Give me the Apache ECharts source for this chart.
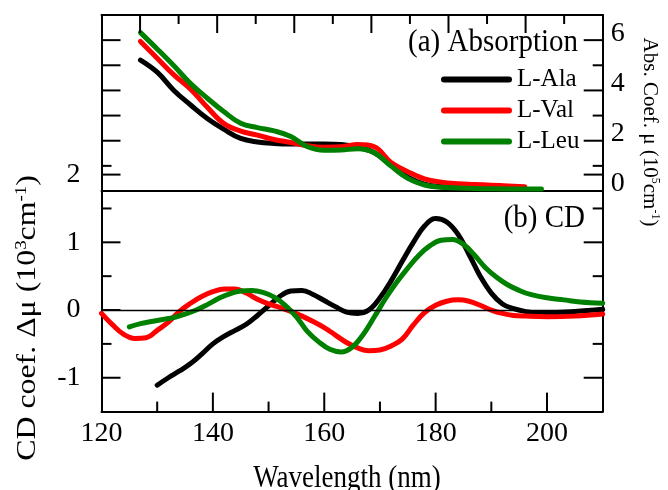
<!DOCTYPE html>
<html><head><meta charset="utf-8">
<script src="https://cdn.jsdelivr.net/npm/echarts@6/dist/echarts.min.js"></script>
<style>html,body{margin:0;padding:0;background:#fff}#c{width:668px;height:490px}</style>
</head><body><div id="c"></div>
<script>
// ---------- data ----------
const seriesNames = ['L-Ala', 'L-Val', 'L-Leu'];
const seriesColors = ['#000000', '#ff0000', '#008000'];

// (a) absorption, 10^5 cm^-1
const nmAbs  = [127,130,133,136,139,142,145,148,151,154,157,160,163,166,169,172,175,178,181,184,187,190,193,196,199];
const absAla = [5.21,4.73,4.00,3.42,2.88,2.45,2.09,1.95,1.89,1.87,1.87,1.87,1.85,1.74,1.52,1.02,0.55,0.27,0.17,0.12,0.10,0.08,0.08,0.07,null];
const absVal = [5.95,5.28,4.62,4.05,3.33,2.68,2.38,2.22,2.05,1.93,1.80,1.74,1.76,1.85,1.76,1.13,0.77,0.48,0.35,0.29,0.26,0.23,0.20,0.17,null];
const absLeu = [6.30,5.65,4.98,4.27,3.69,3.15,2.69,2.52,2.39,2.17,1.76,1.62,1.63,1.68,1.52,0.99,0.50,0.24,0.15,0.12,0.10,0.09,0.08,0.08,0.08];

// (b) CD, 10^3 cm^-1
const cdNmAla = [130,132,134,136,138,140,142,144,146,148,150,152,154,156,158,160,162,164,166,168,170,172,174,176,178,180,182,184,186,188,190,192,194,196,198,200,205,210];
const cdAla   = [-1.11,-1.00,-0.90,-0.79,-0.65,-0.50,-0.39,-0.30,-0.21,-0.08,0.06,0.20,0.28,0.29,0.23,0.14,0.05,-0.03,-0.05,0.00,0.18,0.43,0.72,1.00,1.24,1.35,1.30,1.12,0.82,0.50,0.25,0.09,0.02,-0.02,-0.04,-0.04,-0.02,0.01];
const cdNmVal = [120,122,124,126,128,130,132,134,136,138,140,142,144,146,148,150,152,154,156,158,160,162,164,166,168,170,172,174,176,178,180,182,184,186,188,190,192,194,196,200,205,210];
const cdVal   = [-0.05,-0.22,-0.36,-0.42,-0.41,-0.30,-0.18,-0.02,0.10,0.20,0.27,0.31,0.31,0.25,0.16,0.09,0.04,-0.02,-0.09,-0.17,-0.26,-0.37,-0.48,-0.56,-0.60,-0.59,-0.53,-0.43,-0.22,-0.04,0.07,0.13,0.15,0.13,0.07,0.00,-0.05,-0.08,-0.09,-0.10,-0.09,-0.06];
const cdNmLeu = [125,127,129,131,133,135,137,139,141,143,145,147,149,151,153,155,157,159,161,163,165,167,169,171,173,175,177,179,181,183,185,187,189,191,193,195,197,200,203,206,210];
const cdLeu   = [-0.25,-0.20,-0.17,-0.14,-0.11,-0.06,0.00,0.08,0.17,0.24,0.28,0.29,0.26,0.19,0.07,-0.10,-0.32,-0.47,-0.58,-0.62,-0.55,-0.36,-0.10,0.17,0.41,0.62,0.81,0.95,1.03,1.04,0.97,0.81,0.62,0.48,0.37,0.29,0.23,0.18,0.15,0.12,0.10];

// axis ranges and tick values
const xRange = [120, 210];
const xMajorTicks = [140, 160, 180, 200];
const xMinorTicks = [130, 150, 170, 190];
const topRange = [0, 13];                 // unlabeled top scale of panel (a)
const topLongTicks = [1, 3, 5, 7, 9, 11];
const topShortTicks = [2, 4, 6, 8, 10, 12];
const absRange = [0, 7];
const absLabels = [0, 2, 4, 6];
const absRightLong = [2, 4, 6];
const absRightShort = [1, 3, 5];
const absLeftLong = [2, 3, 4, 5, 6];
const absLeftShort = [1];
const cdRange = [-1.5, 2];
const cdLabels = [-1, 0, 1, 2];
const cdLong = [-1, 0, 1, 2];
const cdShort = [-0.5, 0.5, 1.5];

// ---------- chart ----------
const FONT = '"Liberation Serif", "Times New Roman", serif';
const K = '#000';
const TICK_COLOR = '#000000';
const ls = () => ({ color: K, width: 2 });
const zip = (xs, ys) => xs.map((x, i) => [x, ys[i]]);
const LONG = 19, SHORT = 10;

const chart = echarts.init(document.getElementById('c'), null, { renderer: 'canvas' });
const L = 101.5, R = 65.3;

function ax(o) {
  const a = {
    type: 'value', splitLine: { show: false },
    axisLine: { show: true, onZero: false, lineStyle: ls() },
    axisTick: { show: false },
    axisLabel: Object.assign({ show: !!o.label, fontFamily: FONT, fontSize: 28, color: K }, o.label || {})
  };
  ['gridIndex', 'min', 'max', 'interval', 'position'].forEach(k => { if (o[k] !== undefined) a[k] = o[k]; });
  return a;
}

const option = {
  backgroundColor: '#fff',
  animation: false,
  grid: [
    { left: L, right: R, top: 15, height: 176 },
    { left: L, right: R, top: 174.6, height: 237 }
  ],
  xAxis: [
    ax({ gridIndex: 0, min: xRange[0], max: xRange[1], position: 'bottom' }),
    ax({ gridIndex: 0, min: topRange[0], max: topRange[1], position: 'top' }),
    ax({ gridIndex: 1, min: xRange[0], max: xRange[1], interval: 10, position: 'bottom',
      label: { formatter: v => (v % 20 === 0 && v < xRange[1] ? String(v) : ''), margin: 8 } })
  ],
  yAxis: [
    ax({ gridIndex: 0, min: absRange[0], max: absRange[1], interval: 1, position: 'right',
      label: { formatter: v => (absLabels.indexOf(v) >= 0 ? String(v) : ''), margin: 8,
        verticalAlign: 'bottom', lineHeight: 14 } }),
    ax({ gridIndex: 0, min: absRange[0], max: absRange[1], position: 'left' }),
    ax({ gridIndex: 1, min: cdRange[0], max: cdRange[1], interval: 0.5, position: 'left',
      label: { formatter: v => (cdLabels.indexOf(v) >= 0 ? String(v) : ''), margin: 21 } }),
    ax({ gridIndex: 1, min: cdRange[0], max: cdRange[1], position: 'right' })
  ],
  legend: {
    data: seriesNames,
    orient: 'vertical', left: 436, top: 62, itemGap: 6,
    itemWidth: 71, itemHeight: 6,
    icon: 'path://M3,0 H68 A3,3 0 0 1 68,6 H3 A3,3 0 0 1 3,0 Z',
    textStyle: { fontFamily: FONT, fontSize: 25, color: K },
    selectedMode: false
  },
  series: []
};

// inward tick marks placed through the axes' own scales
function ticks(xi, yi, values, dir, edge, len) {
  return {
    type: 'custom', xAxisIndex: xi, yAxisIndex: yi, silent: true, z: 6, clip: false,
    data: values.map(v => [v]),
    renderItem: (params, api) => {
      const v = api.value(0);
      let x1, y1, x2, y2;
      if (dir === 'x') {
        const p = api.coord([v, edge.value]);
        x1 = x2 = p[0]; y1 = p[1]; y2 = p[1] + (edge.side === 'bottom' ? -len : len);
      } else {
        const p = api.coord([edge.value, v]);
        y1 = y2 = p[1]; x1 = p[0]; x2 = p[0] + (edge.side === 'left' ? len : -len);
      }
      return { type: 'line', shape: { x1, y1, x2, y2 }, style: { stroke: TICK_COLOR, lineWidth: 2 } };
    }
  };
}

const botX = { side: 'bottom', value: cdRange[0] };
const topX = { side: 'top', value: absRange[1] };
const leftX = { side: 'left', value: xRange[0] };
const rightX = { side: 'right', value: xRange[1] };
option.series.push(
  ticks(2, 2, xMajorTicks, 'x', botX, LONG),
  ticks(2, 2, xMinorTicks, 'x', botX, SHORT),
  ticks(1, 0, topLongTicks, 'x', topX, 18),
  ticks(1, 0, topShortTicks, 'x', topX, 9),
  ticks(0, 0, absRightLong, 'y', rightX, LONG),
  ticks(0, 0, absRightShort, 'y', rightX, SHORT),
  ticks(0, 1, absLeftLong, 'y', leftX, LONG),
  ticks(0, 1, absLeftShort, 'y', leftX, SHORT),
  ticks(2, 2, cdLong, 'y', leftX, LONG),
  ticks(2, 2, cdShort, 'y', leftX, SHORT),
  ticks(2, 3, cdLong, 'y', rightX, LONG),
  ticks(2, 3, cdShort, 'y', rightX, SHORT)
);

const absData = [absAla, absVal, absLeu];
const cdX = [cdNmAla, cdNmVal, cdNmLeu];
const cdY = [cdAla, cdVal, cdLeu];

option.series.push({
  type: 'line', xAxisIndex: 2, yAxisIndex: 2, data: [], silent: true, z: 1,
  markLine: { silent: true, symbol: 'none', label: { show: false },
    lineStyle: { color: K, width: 1.4, type: 'solid' }, data: [{ yAxis: 0 }] }
});
seriesNames.forEach((name, i) => {
  option.series.push({
    name, type: 'line', xAxisIndex: 0, yAxisIndex: 0, showSymbol: false, symbol: 'none',
    smooth: 0.4, z: 3, color: seriesColors[i],
    lineStyle: { color: seriesColors[i], width: 5, cap: 'round', join: 'round' },
    data: zip(nmAbs, absData[i])
  });
});
seriesNames.forEach((name, i) => {
  option.series.push({
    name, type: 'line', xAxisIndex: 2, yAxisIndex: 2, showSymbol: false, symbol: 'none',
    smooth: 0.4, z: 3, color: seriesColors[i],
    lineStyle: { color: seriesColors[i], width: 5, cap: 'round', join: 'round' },
    data: zip(cdX[i], cdY[i])
  });
});

const txt = (x, y, text, size, align, extra) => Object.assign({
  type: 'text', x, y, silent: true, z: 10,
  style: { text, font: size + 'px ' + FONT, fill: K, align, textAlign: align,
    verticalAlign: 'middle', textVerticalAlign: 'middle' }
}, extra || {});

const richTitle = (size) => ({
  n: { fontFamily: FONT, fontSize: size, color: K, lineHeight: size + 2 },
  s: { fontFamily: FONT, fontSize: Math.round(size * 0.58), color: K, verticalAlign: 'top', lineHeight: Math.round(size * 0.58) }
});

option.graphic = [
  txt(578, 42, '(a) Absorption', 29, 'right', { scaleY: 1.12 }),
  txt(585, 218, '(b) CD', 29, 'right', { scaleY: 1.12 }),
  txt(347, 479, 'Wavelength (nm)', 27, 'center', { scaleY: 1.15 }),
  { type: 'text', x: 28, y: 318, rotation: Math.PI / 2, scaleX: 1.18, silent: true, z: 10,
    style: { text: '{n|CD coef. Δμ (10}{s|3}{n|cm}{s|-1}{n|)}', rich: richTitle(27), fill: K,
      align: 'center', textAlign: 'center', verticalAlign: 'middle', textVerticalAlign: 'middle' } },
  { type: 'text', x: 650, y: 132, rotation: -Math.PI / 2, silent: true, z: 10,
    style: { text: '{n|Abs. Coef. μ (10}{s|5}{n|cm}{s|-1}{n|)}', rich: richTitle(21), fill: K,
      align: 'center', textAlign: 'center', verticalAlign: 'middle', textVerticalAlign: 'middle' } }
];

chart.setOption(option);
</script></body></html>
